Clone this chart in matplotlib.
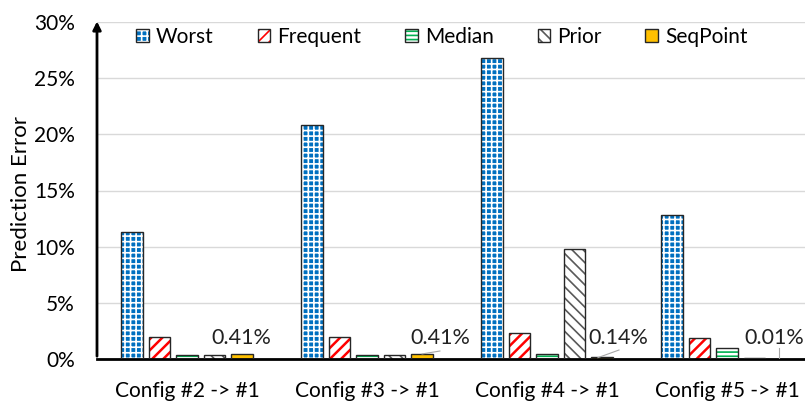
import matplotlib
matplotlib.use("Agg")
import matplotlib.pyplot as plt
from matplotlib.legend_handler import HandlerTuple
import numpy as np

plt.rcParams['font.family'] = ['Lato', 'DejaVu Sans']
plt.rcParams['hatch.linewidth'] = 1.2

categories = ["Config #2 -> #1", "Config #3 -> #1", "Config #4 -> #1", "Config #5 -> #1"]
series_names = ["Worst", "Frequent", "Median", "Prior", "SeqPoint"]
worst = [11.3, 20.8, 26.8, 12.8]
frequent = [1.95, 1.95, 2.3, 1.9]
median = [0.4, 0.4, 0.42, 0.95]
prior = [0.4, 0.4, 9.8, 0.1]
seqpoint = [0.41, 0.41, 0.14, 0.01]
seq_labels = ["0.41%", "0.41%", "0.14%", "0.01%"]
yticks = [0, 5, 10, 15, 20, 25, 30]

W, H = 805, 401
fig = plt.figure(figsize=(W / 100, H / 100), dpi=100)
ax = fig.add_axes([97 / W, 42 / H, 720 / W, 337 / H])

x = np.arange(len(categories))
pitch = 0.1528
bw = 0.122
values = [worst, frequent, median, prior, seqpoint]
styles = [
    dict(face='#0070C0', hatch='+++', hc='white', hl=1.2),
    dict(face='white', hatch='///', hc='#FF0000', hl=1.8),
    dict(face='white', hatch='----', hc='#00B050', hl=1.2),
    dict(face='white', hatch='\\\\\\', hc='#595959', hl=1.2),
    dict(face='#FFC000', hatch=None, hc='#FFC000', hl=1.0),
]


def set_hlw(p, lw):
    try:
        p.set_hatch_linewidth(lw)
    except AttributeError:
        pass


handles = []
for i, (vals, st, name) in enumerate(zip(values, styles, series_names)):
    pos = x + (i - 2) * pitch
    with plt.rc_context({'hatch.linewidth': st['hl']}):
        bars = ax.bar(pos, vals, bw, color=st['face'], hatch=st['hatch'], edgecolor=st['hc'],
                      linewidth=0, zorder=2)
        for b in bars:
            set_hlw(b, st['hl'])
        ax.bar(pos, vals, bw, facecolor='none', edgecolor='#262626', linewidth=1.0, zorder=3)
        hf = plt.Rectangle((0, 0), 1, 1, facecolor=st['face'], hatch=st['hatch'],
                           edgecolor=st['hc'], linewidth=0)
        set_hlw(hf, st['hl'])
    ho = plt.Rectangle((0, 0), 1, 1, facecolor='none', edgecolor='#262626', linewidth=1.0)
    handles.append((hf, ho))

# SeqPoint labels with leader lines
lab_off = [0.30, 0.405, 0.394, 0.262]
for i in range(len(categories)):
    tx = x[i] + lab_off[i]
    ax.text(tx, 1.85, seq_labels[i], ha='center', va='center', fontsize=15.5,
            color='#222222', zorder=4)
ax.plot([x[1] + 0.306, x[1] + 0.405], [0.45, 0.71], color='#A6A6A6', lw=0.8, zorder=4)
ax.plot([x[2] + 0.283, x[2] + 0.40], [0.12, 0.8], color='#A6A6A6', lw=0.8, zorder=4)
ax.plot([x[3] + 0.29, x[3] + 0.29], [0.0, 1.0], color='#A6A6A6', lw=0.8, zorder=4)

ax.set_xlim(-0.5, 3.5)
ax.set_ylim(0, 30)
ax.set_yticks(yticks)
ax.set_yticklabels([f"{v}%" for v in yticks], fontsize=15)
ax.set_xticks(x)
ax.set_xticklabels(categories, fontsize=15)
ax.tick_params(axis='both', length=0)
ax.tick_params(axis='y', pad=16)
ax.tick_params(axis='x', pad=16)
ax.yaxis.grid(True, color='#D9D9D9', lw=1, zorder=0)
ax.set_axisbelow(True)
for s in ['top', 'right', 'left']:
    ax.spines[s].set_visible(False)
ax.spines['bottom'].set_linewidth(2)
ax.annotate('', xy=(-0.5, 30.3), xytext=(-0.5, 0), xycoords='data',
            arrowprops=dict(arrowstyle='-|>', color='black', lw=2, mutation_scale=12),
            annotation_clip=False, zorder=5)
ax.set_ylabel("Prediction Error", fontsize=16)
ax.yaxis.set_label_coords(-0.092, 0.49)

fig.legend(handles, series_names, loc='center', bbox_to_anchor=(442 / W, 1 - 37 / H),
           ncol=5, frameon=False, fontsize=15, handlelength=0.6, handleheight=0.6,
           handletextpad=0.35, columnspacing=2.1,
           handler_map={tuple: HandlerTuple(ndivide=1, pad=0)})

fig.savefig("out.png", dpi=100)
